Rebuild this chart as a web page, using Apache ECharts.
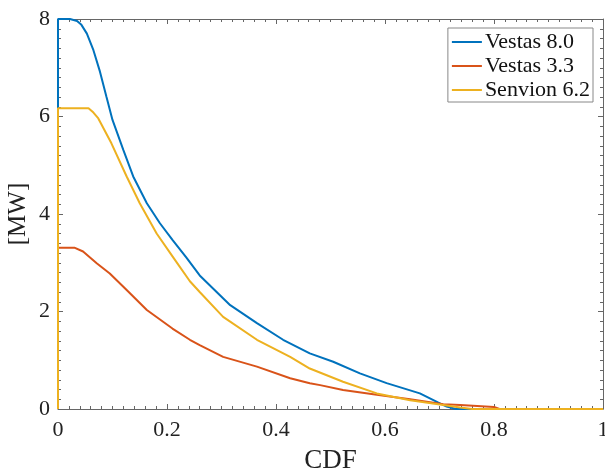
<!DOCTYPE html>
<html><head><meta charset="utf-8">
<script src="https://cdn.jsdelivr.net/npm/echarts@6/dist/echarts.min.js"></script>
<style>html,body{margin:0;padding:0;background:#fff}#c{width:605px;height:474px}</style>
</head><body><div id="c"></div>
<script>
var seriesNames = ['Vestas 8.0', 'Vestas 3.3', 'Senvion 6.2'];
var xTicks = [0, 0.2, 0.4, 0.6, 0.8, 1];
var yTicks = [0, 2, 4, 6, 8];

var v80Cdf = [0, 0, 0.022, 0.035, 0.043, 0.053, 0.065, 0.077, 0.089, 0.1, 0.12, 0.138, 0.163, 0.187, 0.21, 0.236, 0.26, 0.316, 0.365, 0.413, 0.462, 0.505, 0.554, 0.603, 0.664, 0.698, 0.713, 0.73, 1];
var v80MW  = [0, 8, 8, 7.96, 7.88, 7.7, 7.36, 6.92, 6.4, 5.93, 5.31, 4.77, 4.22, 3.81, 3.47, 3.1, 2.74, 2.13, 1.76, 1.42, 1.14, 0.97, 0.73, 0.53, 0.32, 0.13, 0.05, 0, 0];

var v33Cdf = [0, 0, 0.03, 0.046, 0.071, 0.095, 0.126, 0.163, 0.21, 0.242, 0.26, 0.303, 0.365, 0.426, 0.462, 0.481, 0.523, 0.585, 0.646, 0.707, 0.738, 0.8, 0.81, 1];
var v33MW  = [0, 3.31, 3.31, 3.23, 2.99, 2.78, 2.44, 2.03, 1.65, 1.42, 1.31, 1.07, 0.87, 0.63, 0.53, 0.49, 0.39, 0.29, 0.2, 0.1, 0.08, 0.04, 0, 0];

var s62Cdf = [0, 0, 0.056, 0.065, 0.074, 0.098, 0.126, 0.15, 0.181, 0.212, 0.242, 0.26, 0.303, 0.365, 0.426, 0.462, 0.523, 0.585, 0.646, 0.707, 0.738, 0.76, 1];
var s62MW  = [0, 6.17, 6.17, 6.08, 5.96, 5.45, 4.77, 4.22, 3.6, 3.1, 2.62, 2.4, 1.89, 1.42, 1.07, 0.83, 0.56, 0.32, 0.18, 0.08, 0.03, 0, 0];

function pairs(xs, ys) { return xs.map(function (x, i) { return [x, ys[i]]; }); }

var colors = ['#0072BD', '#D95319', '#EDB120'];
var font = 'Liberation Serif';
var axisCol = '#666';

function axisCommon(extra) {
  var a = {
    type: 'value',
    axisLine: { show: true, onZero: false, lineStyle: { color: axisCol, width: 1 } },
    axisTick: { show: true, inside: true, length: 5, lineStyle: { color: axisCol } },
    minorTick: { show: true, splitNumber: 10, length: 3, lineStyle: { color: axisCol } },
    splitLine: { show: false },
    axisLabel: { show: true, fontFamily: font, fontSize: 22, color: '#222' }
  };
  for (var k in extra) a[k] = extra[k];
  return a;
}

var chart = echarts.init(document.getElementById('c'), null, { renderer: 'canvas' });
chart.setOption({
  animation: false,
  backgroundColor: '#fff',
  grid: { left: 58, right: 2, top: 19, bottom: 65, containLabel: false, outerBoundsMode: 'none' },
  legend: {
    data: seriesNames,
    orient: 'vertical',
    right: 12, top: 28,
    icon: 'rect', itemWidth: 30, itemHeight: 2, itemGap: 2, itemStyle: { borderWidth: 0 },
    textStyle: { fontFamily: font, fontSize: 22, color: '#111', padding: [0, 0, 0, -2] },
    borderColor: '#888', borderWidth: 1, backgroundColor: '#fff',
    padding: [3, 3, 1, 4]
  },
  xAxis: [
    axisCommon({ min: 0, max: 1, interval: 0.2, position: 'bottom',
      axisLabel: { fontFamily: font, fontSize: 22, color: '#222', margin: 10,
        formatter: function (v) { return xTicks.indexOf(Math.round(v * 10) / 10) >= 0 ? String(Math.round(v * 10) / 10) : ''; } },
      name: 'CDF', nameLocation: 'middle', nameGap: 38,
      nameTextStyle: { fontFamily: font, fontSize: 27, color: '#222' } }),
    axisCommon({ min: 0, max: 1, interval: 0.2, position: 'top', axisLabel: { show: false } })
  ],
  yAxis: [
    axisCommon({ min: 0, max: 8, interval: 2, position: 'left',
      axisLabel: { fontFamily: font, fontSize: 22, color: '#222', margin: 8,
        formatter: function (v) { return yTicks.indexOf(v) >= 0 ? String(v) : ''; } },
      name: '[MW]', nameLocation: 'middle', nameGap: 27, nameRotate: 90, nameMoveOverlap: false,
      nameTextStyle: { fontFamily: font, fontSize: 25, color: '#222' } }),
    axisCommon({ min: 0, max: 8, interval: 2, position: 'right', axisLabel: { show: false } })
  ],
  series: [
    { name: seriesNames[0], type: 'line', data: pairs(v80Cdf, v80MW), showSymbol: false, symbol: 'none',
      lineStyle: { color: colors[0], width: 2 }, itemStyle: { color: colors[0] }, z: 2 },
    { name: seriesNames[1], type: 'line', data: pairs(v33Cdf, v33MW), showSymbol: false, symbol: 'none',
      lineStyle: { color: colors[1], width: 2 }, itemStyle: { color: colors[1] }, z: 3 },
    { name: seriesNames[2], type: 'line', data: pairs(s62Cdf, s62MW), showSymbol: false, symbol: 'none',
      lineStyle: { color: colors[2], width: 2 }, itemStyle: { color: colors[2] }, z: 4 }
  ]
});
</script></body></html>
